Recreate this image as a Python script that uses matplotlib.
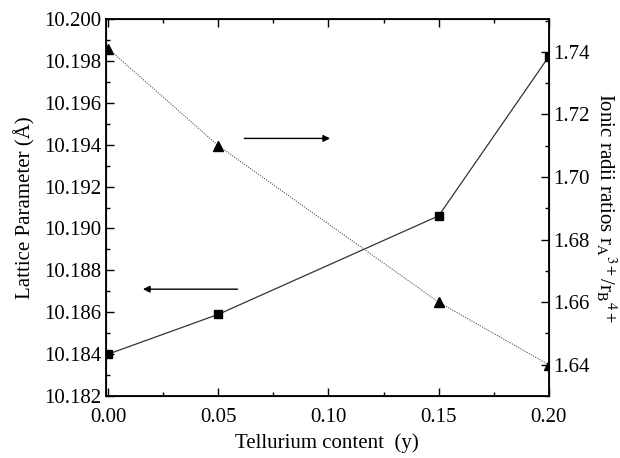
import numpy as np
import matplotlib.pyplot as plt
from matplotlib.ticker import MultipleLocator

plt.rcParams['font.family'] = ['Liberation Serif', 'DejaVu Serif']
plt.rcParams['mathtext.fontset'] = 'stix'

# data
te_content = [0.00, 0.05, 0.15, 0.20]
lattice = [10.1840, 10.1859, 10.1906, 10.1982]
radii_ratio = [1.741, 1.710, 1.660, 1.640]

fig = plt.figure(figsize=(6.2, 4.58), dpi=100)
ax = fig.add_axes([0.171, 0.1354, 0.714, 0.823])

ax.plot(te_content, lattice, color='#333333', lw=0.9, marker='s', ms=5.5,
        mfc='black', mec='black')
ax.set_xlim(-0.001, 0.2)
ax.set_ylim(10.182, 10.200)
ax.xaxis.set_minor_locator(MultipleLocator(0.025))
ax.yaxis.set_major_locator(MultipleLocator(0.002))
ax.yaxis.set_minor_locator(MultipleLocator(0.001))
ax.set_xticks([0.0, 0.05, 0.10, 0.15, 0.20])
ax.set_xticklabels(['0.00', '0.05', '0.10', '0.15', '0.20'])
ax.yaxis.set_major_formatter(plt.FormatStrFormatter('%.3f'))
ax.tick_params(which='both', direction='in', top=True, labelsize=15, width=1)
ax.tick_params(which='major', length=6)
ax.tick_params(which='minor', length=3)
ax.tick_params(axis='x', pad=9)
ax.set_xlabel('Tellurium content  (y)', fontsize=15, labelpad=4)
ax.set_ylabel('Lattice Parameter (Å)', fontsize=15, labelpad=6)
for s in ax.spines.values():
    s.set_linewidth(1.3)

ax2 = ax.twinx()
ax2.plot(te_content, radii_ratio, color='#555555', lw=0.8, ls=(0, (1, 1.2)),
         marker='^', ms=6.5, mfc='black', mec='black')
ax2.set_ylim(1.630, 1.7505)
ax2.yaxis.set_major_locator(MultipleLocator(0.02))
ax2.yaxis.set_minor_locator(MultipleLocator(0.01))
ax2.yaxis.set_major_formatter(plt.FormatStrFormatter('%.2f'))
ax2.tick_params(which='both', direction='in', labelsize=15, width=1)
ax2.tick_params(which='major', length=6)
ax2.tick_params(which='minor', length=3)
ax2.set_ylabel(r'Ionic radii ratios r$_{\mathrm{A}}$$^{3+}$/r$_{\mathrm{B}}$$^{4+}$',
               fontsize=15, rotation=270, labelpad=20)

# arrows pointing to each axis
ax.annotate('', xy=(0.102, 10.1943), xytext=(0.0605, 10.1943),
            arrowprops=dict(arrowstyle='-|>', color='black', lw=1, mutation_scale=10))
ax.annotate('', xy=(0.0145, 10.1871), xytext=(0.0600, 10.1871),
            arrowprops=dict(arrowstyle='-|>', color='black', lw=1, mutation_scale=10))

fig.savefig('out.png', dpi=100)
